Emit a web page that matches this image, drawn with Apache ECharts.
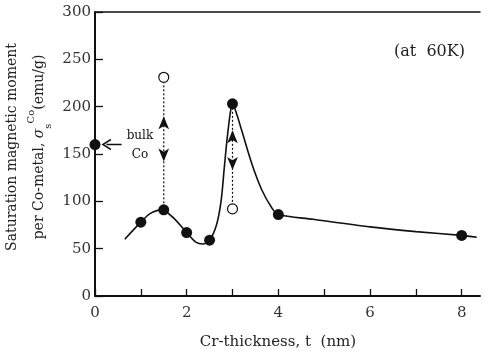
<!DOCTYPE html>
<html><head><meta charset="utf-8">
<script src="https://cdn.jsdelivr.net/npm/echarts@6/dist/echarts.min.js"></script>
<style>html,body{margin:0;padding:0;background:#fff}#c{width:488px;height:357px}</style>
</head><body><div id="c"></div>
<script>
const xTicks = [0, 1, 2, 3, 4, 5, 6, 7, 8];
const xLabels = [0, 2, 4, 6, 8];
const yTicks = [0, 50, 100, 150, 200, 250, 300];
const filledPoints = [[0, 160], [1, 78], [1.5, 91], [2, 67], [2.5, 59], [3, 203], [4, 86], [8, 64]];
const openPoints = [[1.5, 231], [3, 92]];
const curve = [[0.65, 60], [1.0, 78], [1.2, 87], [1.45, 91], [1.7, 83], [2.0, 67], [2.2, 57], [2.35, 55],
  [2.5, 59], [2.65, 75], [2.75, 100], [2.82, 135], [2.88, 165], [2.95, 193], [3.0, 203], [3.1, 191], [3.2, 175],
  [3.42, 140], [3.64, 112], [3.86, 93], [4.0, 86], [4.76, 81], [6.0, 73], [7.0, 68], [8.0, 64], [8.33, 62]];
const dropLine1 = [[1.5, 231], [1.5, 91]];
const dropLine2 = [[3, 203], [3, 92]];
const upHeads = [[1.5, 190], [3, 175]];
const downHeads = [[1.5, 142], [3, 133]];
const bulkArrow = [[0.58, 160], [0.25, 160]];
const bulkHead = [[0.26, 160]];
const bulkText = [[0.98, 159]];
const bulkLabel = 'bulk\nCo';
const tempLabel = '(at  60K)';
const xTitle = 'Cr-thickness, t  (nm)';

const FONT = 'DejaVu Serif';
const INK = '#111';
const chart = echarts.init(document.getElementById('c'));
const axisCommon = {
  type: 'value', splitLine: { show: false },
  axisLine: { show: true, lineStyle: { color: INK, width: 2 } },
};
chart.setOption({
  animation: false,
  backgroundColor: '#fff',
  grid: { left: 95, right: 8, top: 12, bottom: 61, outerBoundsMode: 'none', containLabel: false },
  xAxis: [{
    ...axisCommon, min: 0, max: 8.4, interval: 1,
    axisTick: { show: true, inside: true, length: 7, customValues: xTicks, lineStyle: { color: INK, width: 1.3 } },
    axisLabel: { customValues: xLabels, fontFamily: FONT, fontSize: 15, color: '#333', margin: 10 },
    name: xTitle, nameLocation: 'middle', nameGap: 39, nameMoveOverlap: false,
    nameTextStyle: { fontFamily: FONT, fontSize: 15, color: '#222', padding: [0, 19, 0, 0] }
  }, {
    ...axisCommon, position: 'top', min: 0, max: 8.4,
    axisLine: { show: true, lineStyle: { color: INK, width: 1.5 } },
    axisTick: { show: false }, axisLabel: { show: false }
  }],
  yAxis: {
    ...axisCommon, min: 0, max: 300, interval: 50,
    axisTick: { show: true, inside: true, length: 8, customValues: yTicks, lineStyle: { color: INK, width: 1.3 } },
    axisLabel: { fontFamily: FONT, fontSize: 15, color: '#333', margin: 4 },
    name: '{a|Saturation magnetic moment}\n{a|per Co-metal, }{i|σ}{sub|s}{sup|Co}{a|(emu/g)}',
    nameLocation: 'middle', nameGap: 42, nameRotate: 90, nameMoveOverlap: false,
    nameTextStyle: {
      fontFamily: FONT, fontSize: 14, color: '#222', lineHeight: 27, padding: [0, 0, 0, 14],
      rich: {
        a: { fontFamily: FONT, fontSize: 14, color: '#222', lineHeight: 27 },
        i: { fontFamily: FONT, fontSize: 14, color: '#222', fontStyle: 'italic', lineHeight: 27 },
        sub: { fontFamily: FONT, fontSize: 10, color: '#222', verticalAlign: 'bottom', lineHeight: 27 },
        sup: { fontFamily: FONT, fontSize: 10, color: '#222', verticalAlign: 'top', lineHeight: 27 }
      }
    }
  },
  graphic: [{
    type: 'text', left: 394, top: 44,
    style: { text: tempLabel, fontFamily: FONT, fontSize: 16, fill: '#222' }
  }],
  series: [
    { type: 'line', data: curve, smooth: 0.3, showSymbol: false, lineStyle: { color: INK, width: 1.6 }, z: 2 },
    { type: 'line', data: dropLine1, showSymbol: false, lineStyle: { color: INK, width: 1.2, type: [2, 2] }, z: 2 },
    { type: 'line', data: dropLine2, showSymbol: false, lineStyle: { color: INK, width: 1.2, type: [2, 2] }, z: 2 },
    { type: 'scatter', data: upHeads, symbol: 'arrow', symbolSize: [8, 13], itemStyle: { color: INK, opacity: 1 }, z: 3 },
    { type: 'scatter', data: downHeads, symbol: 'arrow', symbolSize: [8, 13], symbolRotate: 180, itemStyle: { color: INK, opacity: 1 }, z: 3 },
    { type: 'line', data: bulkArrow, showSymbol: false, lineStyle: { color: INK, width: 1.5 }, z: 2 },
    { type: 'scatter', data: bulkHead, symbol: 'path://M10,0 L0,5 L10,10', symbolKeepAspect: true, symbolSize: [8, 10],
      itemStyle: { color: 'none', borderColor: INK, borderWidth: 1.5, opacity: 1 }, z: 3 },
    { type: 'scatter', data: bulkText, symbolSize: 0, itemStyle: { opacity: 1 },
      label: { show: true, position: 'inside', formatter: bulkLabel, fontFamily: FONT, fontSize: 12, color: '#111', lineHeight: 19, align: 'center' } },
    { type: 'scatter', data: filledPoints, symbol: 'circle', symbolSize: 11, itemStyle: { color: INK, opacity: 1 }, z: 5 },
    { type: 'scatter', data: openPoints, symbol: 'circle', symbolSize: 10, itemStyle: { color: '#fff', borderColor: INK, borderWidth: 1.2, opacity: 1 }, z: 5 }
  ]
});
</script></body></html>
